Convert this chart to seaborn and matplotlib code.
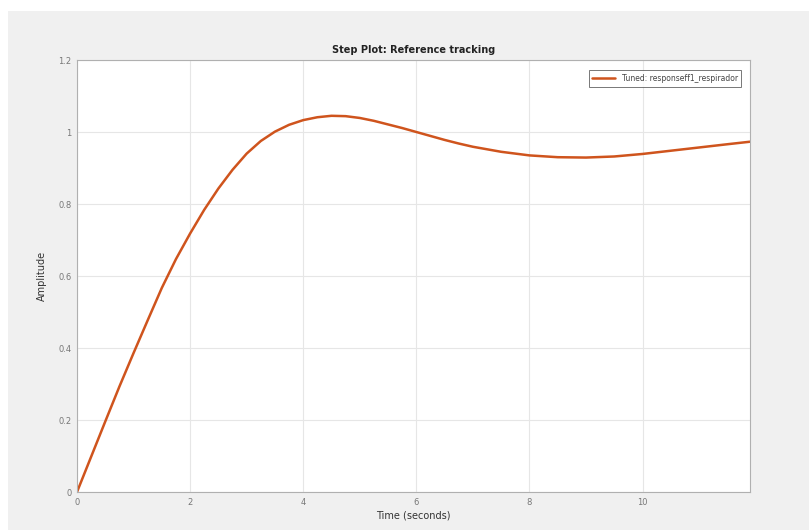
import pandas as pd
import matplotlib
matplotlib.use("Agg")
import matplotlib.pyplot as plt
import seaborn as sns

# Data (time in seconds, amplitude)
time_s = [0.0, 0.25, 0.5, 0.75, 1.0, 1.25, 1.5, 1.75, 2.0, 2.25, 2.5, 2.75, 3.0,
          3.25, 3.5, 3.75, 4.0, 4.25, 4.5, 4.75, 5.0, 5.25, 5.5, 5.75, 6.0,
          6.25, 6.5, 6.75, 7.0, 7.5, 8.0, 8.5, 9.0, 9.5, 10.0, 10.5, 11.0, 11.5, 11.9]
amplitude = [0.0, 0.098, 0.196, 0.293, 0.386, 0.477, 0.567, 0.647, 0.718, 0.784, 0.843, 0.895, 0.940,
             0.975, 1.001, 1.020, 1.033, 1.041, 1.045, 1.044, 1.039, 1.031, 1.021, 1.011, 1.000,
             0.989, 0.978, 0.968, 0.959, 0.945, 0.935, 0.930, 0.929, 0.932, 0.939, 0.948, 0.957, 0.966, 0.973]
series_label = "Tuned: responseff1_respirador"
title = "Step Plot: Reference tracking"
x_ticks = [0, 2, 4, 6, 8, 10]
y_ticks = [0, 0.2, 0.4, 0.6, 0.8, 1.0, 1.2]
y_tick_labels = ["0", "0.2", "0.4", "0.6", "0.8", "1", "1.2"]

df = pd.DataFrame({"Time (seconds)": time_s, "Amplitude": amplitude, "series": series_label})

sns.set_theme(style="white")
plt.rcParams['font.family'] = ['DejaVu Sans']

fig = plt.figure(figsize=(8.09, 5.30), dpi=100, facecolor="white")
fig.patches.append(matplotlib.patches.Rectangle((8 / 809, 0), 1, 1 - 11 / 530,
                                                transform=fig.transFigure,
                                                facecolor="#f0f0f0", edgecolor="none", zorder=-10))
ax = fig.add_axes([77 / 809, 1 - 492 / 530, (750 - 77) / 809, (492 - 60) / 530])
ax.set_facecolor("white")

sns.lineplot(data=df, x="Time (seconds)", y="Amplitude", hue="series",
             palette=["#cf541d"], linewidth=1.8, ax=ax, estimator=None, sort=False)

ax.set_xlim(0, 11.9)
ax.set_ylim(0, 1.2)
ax.set_xticks(x_ticks)
ax.set_xticklabels([str(v) for v in x_ticks])
ax.set_yticks(y_ticks)
ax.set_yticklabels(y_tick_labels)
ax.grid(True, color="#e6e6e6", linewidth=0.8)
for s in ax.spines.values():
    s.set_color("#b0b0b0")
    s.set_linewidth(0.8)
ax.tick_params(axis="both", direction="in", length=3, color="#b0b0b0",
               labelsize=6, labelcolor="#777777", pad=4)
ax.set_xlabel("Time (seconds)", fontsize=7, color="#333333", labelpad=3)
ax.set_ylabel("Amplitude", fontsize=7, color="#333333", labelpad=8)
ax.set_title(title, fontsize=7, fontweight="bold", color="#222222", pad=5)

leg = ax.legend(loc="upper right", fontsize=5.5, frameon=True, fancybox=False,
                edgecolor="#555555", borderpad=0.5, handlelength=3.0,
                bbox_to_anchor=(0.993, 0.985))
leg.get_frame().set_linewidth(0.7)
for txt in leg.get_texts():
    txt.set_color("#444444")

fig.savefig("out.png", dpi=100, facecolor=fig.get_facecolor())
